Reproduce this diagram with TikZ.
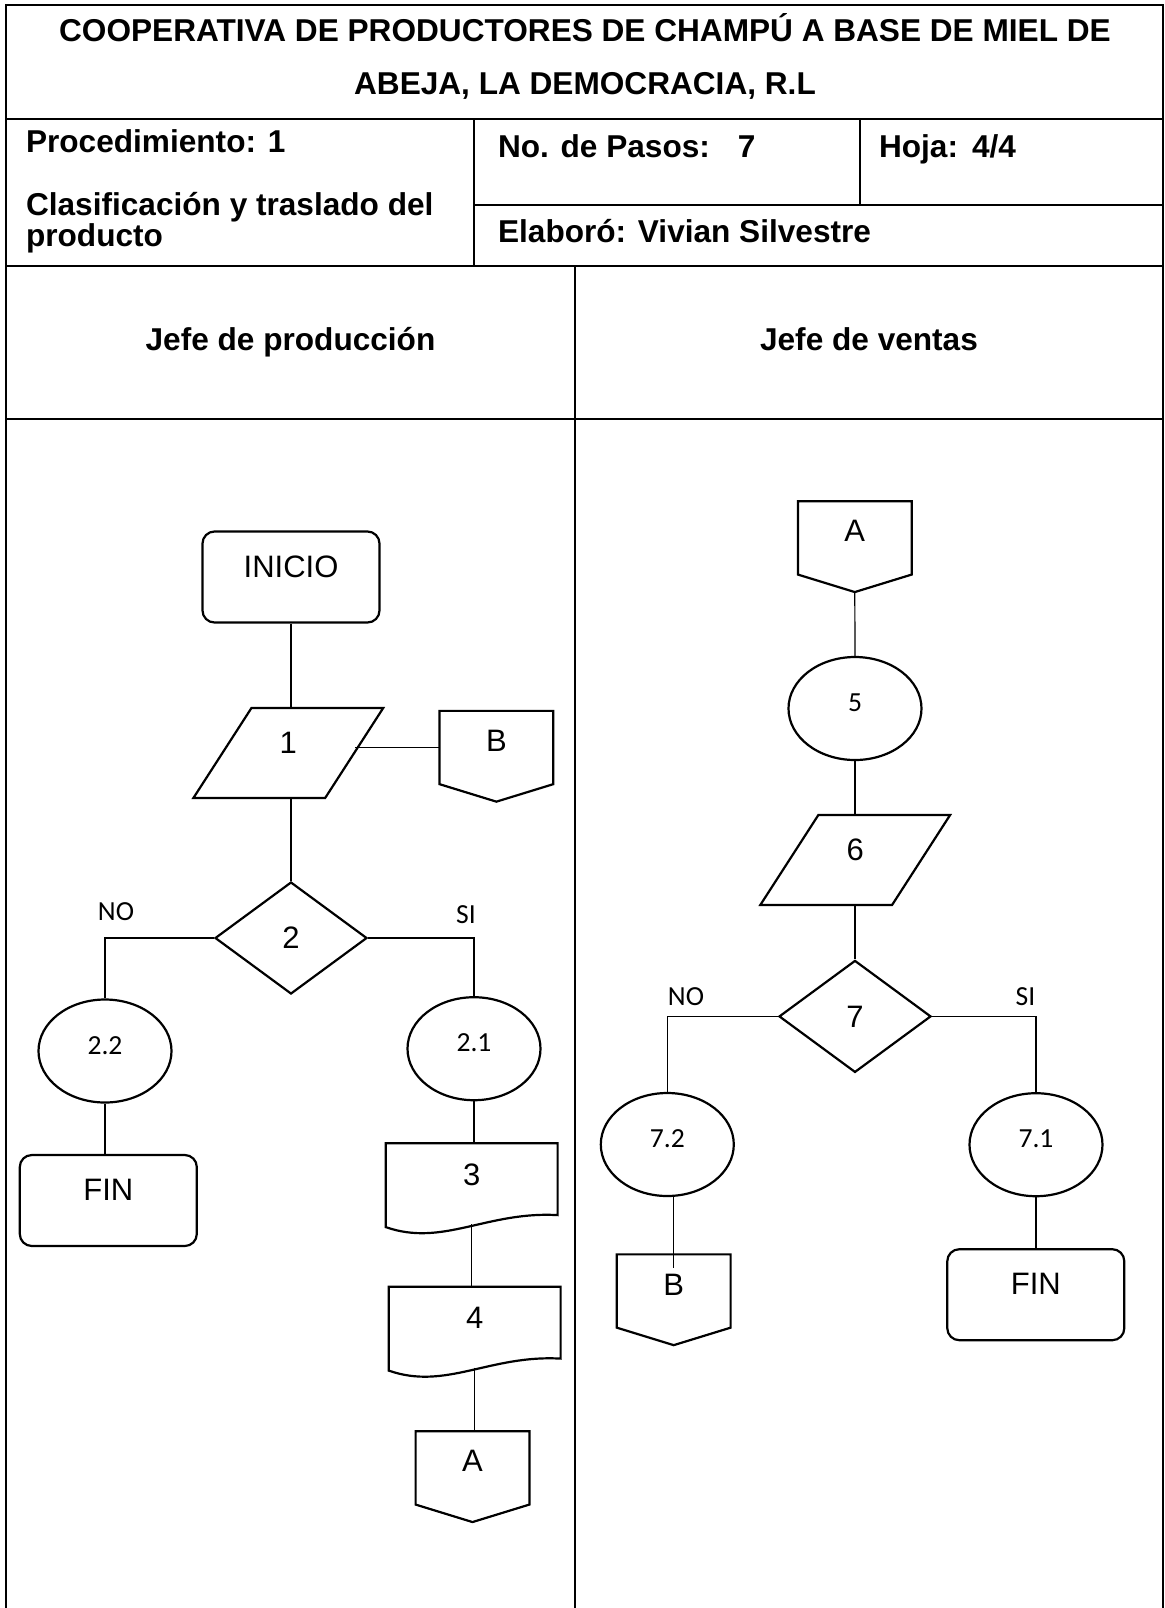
\documentclass[tikz,border=0pt]{standalone}
\usepackage{fontspec}
\setmainfont{Liberation Sans}
\newfontfamily\calibri{Carlito}
\usetikzlibrary{shapes.geometric, positioning, calc}

\definecolor{lineColor}{RGB}{0, 0, 0}

\tikzset{
    font=\fontsize{15.5}{18}\selectfont,
    % --- marco de la hoja ---
    frameLine/.style={draw=lineColor, line width=1.4pt},
    headText/.style={font=\fontsize{15.8}{18}\selectfont\bfseries, anchor=base},
    headLeft/.style={headText, anchor=base west},
    % --- figuras del diagrama ---
    shapeLine/.style={draw=lineColor, line width=1.1pt},
    termNode/.style={
        shapeLine, rectangle, rounded corners=6pt,
        minimum width=88.5pt, minimum height=45.5pt, inner sep=0pt,
        text height=8pt, text depth=8pt
    },
    ioNode/.style={
        shapeLine, trapezium, trapezium left angle=67, trapezium right angle=113,
        trapezium stretches=true,
        minimum width=95pt, minimum height=45pt, inner sep=0pt,
        text height=8pt, text depth=8pt
    },
    decNode/.style={
        shapeLine, diamond, minimum width=76pt, minimum height=56pt, inner sep=0pt
    },
    stepNode/.style={
        shapeLine, ellipse, minimum width=66.5pt, minimum height=51.5pt, inner sep=0pt,
        font=\calibri\fontsize{13.8}{16}\selectfont,
        text height=11pt, text depth=8pt
    },
    % documento y conector de pagina: el contorno se dibuja aparte
    docNode/.style={
        rectangle, minimum width=85.5pt, minimum height=41.5pt, inner sep=0pt,
        text height=8pt, text depth=8pt
    },
    pageNode/.style={
        rectangle, minimum width=56.5pt, minimum height=36.25pt, inner sep=0pt,
        text height=10pt, text depth=6pt
    },
    % --- lineas ---
    conn/.style={draw=lineColor, line width=0.6pt},
    branchLabel/.style={font=\calibri\fontsize{13.8}{16}\selectfont, anchor=base}
}

\begin{document}
\begin{tikzpicture}[x=0.5pt, y=-0.5pt]

	\useasboundingbox (0,0) rectangle (1165,1608);

	% =========================================
	% 1. Encabezado
	% =========================================
	\draw[frameLine] (6,1608) -- (6,5) -- (1163,5) -- (1163,1608);
	\draw[frameLine] (6,119) -- (1163,119);
	\draw[frameLine] (6,266) -- (1163,266);
	\draw[frameLine] (6,419) -- (1163,419);
	\draw[frameLine] (474,119) -- (474,266);
	\draw[frameLine] (860,119) -- (860,205);
	\draw[frameLine] (474,205) -- (1163,205);
	\draw[frameLine] (575,266) -- (575,1608);

	\node[headText] (title1) at (585,41) {COOPERATIVA DE PRODUCTORES DE CHAMPÚ A BASE DE MIEL DE};
	\node[headText] (title2) at (585,94.5) {ABEJA, LA DEMOCRACIA, R.L};

	\node[headLeft] (proc) at (19,152) {Procedimiento: 1};
	\node[headLeft] (clas) at (19,215) {Clasificación y traslado del};
	\node[headLeft] (prod) at (19,246) {producto};
	\node[headLeft] (pasos) at (491,157) {No. de Pasos:\hspace{14pt}7};
	\node[headLeft] (hoja) at (872,157) {Hoja:\hspace{7pt}4/4};
	\node[headLeft] (elab) at (491,242) {Elaboró: Vivian Silvestre};

	\node[headText] (laneProd) at (290.5,350) {Jefe de producción};
	\node[headText] (laneVent) at (869,350) {Jefe de ventas};

	% =========================================
	% 2. Jefe de produccion
	% =========================================
	\node[termNode] (ini) at (291,577) {INICIO};
	\node[ioNode] (p1) at (288.3,753) {1};
	\node[pageNode] (bL) at (496.4,747.5) {B};
	\node[decNode] (d2) at (291,938) {2};
	\node[stepNode] (e22) at (105,1051) {2.2};
	\node[stepNode] (e21) at (474,1048.7) {2.1};
	\node[termNode] (fin1) at (108.3,1200.5) {FIN};
	\node[docNode] (doc3) at (471.7,1185.2) {3};
	\node[docNode] (doc4) at (474.7,1328.7) {4};
	\node[pageNode] (aL) at (472.5,1467.9) {A};

	% =========================================
	% 3. Jefe de ventas
	% =========================================
	\node[pageNode] (aR) at (854.8,537.9) {A};
	\node[stepNode] (e5) at (855,708.5) {5};
	\node[ioNode] (p6) at (855.2,860) {6};
	\node[decNode] (d7) at (855,1016.4) {7};
	\node[stepNode] (e72) at (667.3,1144.5) {7.2};
	\node[stepNode] (e71) at (1036,1144.7) {7.1};
	\node[pageNode] (bR) at (673.7,1291) {B};
	\node[termNode] (fin2) at (1035.8,1294.7) {FIN};

	% contornos de documentos y conectores
	\foreach \d in {doc3, doc4}
		\draw[shapeLine] (\d.south west) -- (\d.north west) -- (\d.north east)
		-- ([yshift=6pt]\d.south east) .. controls +(-71,-4) and +(57,20) .. (\d.south west) -- cycle;
	\foreach \p in {bL, aL, aR, bR}
		\draw[shapeLine] (\p.north west) -- (\p.north east) -- (\p.south east)
		-- ([yshift=-8.75pt]\p.south) -- (\p.south west) -- cycle;

	% =========================================
	% 4. Lineas de flujo
	% =========================================
	\draw[conn] (ini.south) -- (ini.south |- p1.north);
	\draw[conn] (bL.west) -- (bL.west -| p1.east);
	\draw[conn] (d2.north |- p1.south) -- (d2.north);
	\draw[conn] (d2.west) -| (e22.north);
	\draw[conn] (d2.east) -| (e21.north);
	\draw[conn] (e22.south) -- (e22.south |- fin1.north);
	\draw[conn] (e21.south) -- (e21.south |- doc3.north);
	\draw[conn] ([yshift=1.5pt]doc3.south) -- (doc3.south |- doc4.north);
	\draw[conn] ([yshift=1.5pt]doc4.south) -- (doc4.south |- aL.north);

	\draw[conn] ([yshift=-8.75pt]aR.south) -- (e5.north);
	\draw[conn] (e5.south) -- (e5.south |- p6.north);
	\draw[conn] (d7.north |- p6.south) -- (d7.north);
	\draw[conn] (d7.west) -| (e72.north);
	\draw[conn] (d7.east) -| (e71.north);
	\draw[conn] (bR.north |- e72.south) -- ([yshift=-6.7pt]bR.north);
	\draw[conn] (e71.south) -- (e71.south |- fin2.north);

	% etiquetas SI / NO
	\node[branchLabel] (no2) at (116,920) {NO};
	\node[branchLabel] (si2) at (466,923) {SI};
	\node[branchLabel] (no7) at (686,1005) {NO};
	\node[branchLabel] (si7) at (1025.5,1005) {SI};

\end{tikzpicture}
\end{document}
